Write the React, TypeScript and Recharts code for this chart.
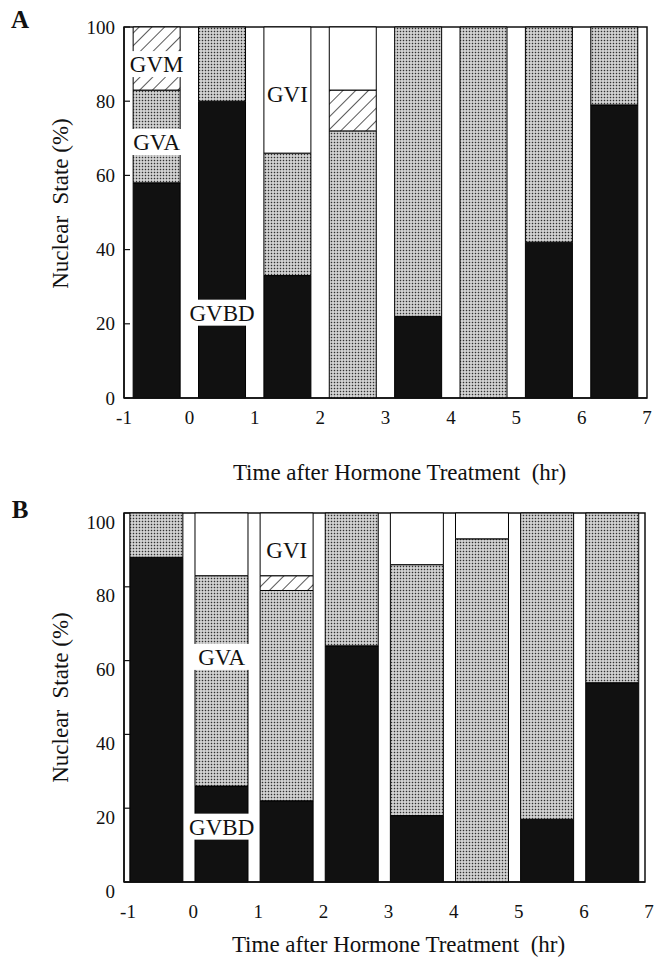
import React from 'react';
import { BarChart, Bar, XAxis, YAxis, ReferenceArea, ReferenceDot, Label } from 'recharts';

const SERIF = '"Liberation Serif", "Times New Roman", Times, serif';

// interval start hours (each bar spans start..start+1)
const hours = ['-1', '0', '1', '2', '3', '4', '5', '6'];
const xTicks = [-1, 0, 1, 2, 3, 4, 5, 6, 7];
const yTicks = [0, 20, 40, 60, 80, 100];

// Panel A (%)
const gvbdA = [58, 80, 33, 0, 22, 0, 42, 79];
const gvaA = [25, 20, 33, 72, 78, 100, 58, 21];
const gvmA = [17, 0, 0, 11, 0, 0, 0, 0];
const gviA = [0, 0, 34, 17, 0, 0, 0, 0];

// Panel B (%)
const gvbdB = [88, 26, 22, 64, 18, 0, 17, 54];
const gvaB = [12, 57, 57, 36, 68, 93, 83, 46];
const gvmB = [0, 0, 4, 0, 0, 0, 0, 0];
const gviB = [0, 17, 17, 0, 14, 7, 0, 0];

const labelsA = [
  { text: 'GVM', hour: '-1', value: 90, knockout: true },
  { text: 'GVA', hour: '-1', value: 69, knockout: true },
  { text: 'GVBD', hour: '0', value: 23, knockout: true },
  { text: 'GVI', hour: '1', value: 82, knockout: false },
];
const labelsB = [
  { text: 'GVI', hour: '1', value: 90, knockout: false },
  { text: 'GVA', hour: '0', value: 61, knockout: true },
  { text: 'GVBD', hour: '0', value: 15, knockout: true },
];

const buildRows = (gvbd: number[], gva: number[], gvm: number[], gvi: number[]) =>
  hours.map((h, i) => ({ hour: h, mid: Number(h) + 0.5, GVBD: gvbd[i], GVA: gva[i], GVM: gvm[i], GVI: gvi[i] }));

const rowsA = buildRows(gvbdA, gvaA, gvmA, gviA);
const rowsB = buildRows(gvbdB, gvaB, gvmB, gviB);

const CHAR_W: Record<string, number> = { G: 0.722, V: 0.722, M: 0.889, A: 0.722, B: 0.667, D: 0.722, I: 0.333 };
const textWidth = (s: string, fs: number) => s.split('').reduce((a, c) => a + (CHAR_W[c] ?? 0.6), 0) * fs;

const W = 657;

const BoxLabel = (props: any) => {
  const { cx, cy, text, knockout, barW } = props;
  const fs = 23;
  const tw = textWidth(text, fs);
  const w = knockout ? Math.max(tw + 4, barW + 3) : tw + 2;
  return (
    <g>
      <rect x={cx - w / 2} y={cy - 13} width={w} height={26} fill="#fff" />
      <text x={cx} y={cy + 8} textAnchor="middle" fontSize={fs} fontFamily={SERIF} fill="#111">{text}</text>
    </g>
  );
};

const YTick = (props: any) => {
  const { x, y, payload, extraDy } = props;
  return (
    <text x={x} y={y} dy={6.5 + (extraDy || 0)} textAnchor="end" fontSize={19} fontFamily={SERIF} fill="#111">
      {payload.value}
    </text>
  );
};

const XTick = (props: any) => {
  const { x, y, payload, offY, offX } = props;
  return (
    <text x={x + (offX || 0)} y={y + offY} textAnchor="middle" fontSize={19} fontFamily={SERIF} fill="#111">
      {payload.value}
    </text>
  );
};

type PanelProps = {
  id: string;
  letter: string;
  rows: any[];
  labels: { text: string; hour: string; value: number; knockout: boolean }[];
  height: number;
  top: number;
  right: number;
  xAxisH: number;
  gap: number;
  xTickOff: number;
  xTickDx: number;
  yTickDy: number;
  xTitleOff: number;
  yTitleOff: number;
};

const Panel = (p: PanelProps) => {
  const plotW = W - 124 - p.right;
  const barW = (plotW / hours.length) * (1 - 2 * p.gap);
  const stip = `stip${p.id}`;
  const hatch = `hatch${p.id}`;
  return (
    <BarChart
      width={W}
      height={p.height}
      data={p.rows}
      margin={{ top: p.top, right: p.right, left: 0, bottom: 0 }}
      barCategoryGap={`${p.gap * 100}%`}
    >
      <defs>
        <pattern id={stip} patternUnits="userSpaceOnUse" width={3} height={3}>
          <rect width={3} height={3} fill="#dcdcdc" />
          <rect x={0.75} y={0.75} width={1.5} height={1.5} fill="#303030" />
        </pattern>
        <pattern id={hatch} patternUnits="userSpaceOnUse" width={9} height={9} patternTransform="rotate(45)">
          <rect width={9} height={9} fill="#fff" />
          <line x1={0} y1={0} x2={0} y2={9} stroke="#111" strokeWidth={1.4} />
        </pattern>
      </defs>
      <XAxis
        xAxisId="num"
        dataKey="mid"
        type="number"
        domain={[-1, 7]}
        ticks={xTicks}
        interval={0}
        allowDataOverflow
        height={p.xAxisH}
        tickLine={false}
        tickSize={0}
        tickMargin={0}
        axisLine={{ stroke: '#111', strokeWidth: 1.5 }}
        tick={<XTick offY={p.xTickOff} offX={p.xTickDx} />}
      >
        <Label
          content={(lp: any) => {
            const vb = lp.viewBox || {};
            return (
              <text
                x={vb.x + vb.width / 2 + 14}
                y={vb.y + p.xTitleOff}
                textAnchor="middle"
                fontSize={23}
                fontFamily={SERIF}
                fill="#111"
                style={{ whiteSpace: 'pre' }}
              >
                {'Time after Hormone Treatment  (hr)'}
              </text>
            );
          }}
        />
      </XAxis>
      <XAxis xAxisId="cat" dataKey="hour" type="category" hide height={0} />
      <YAxis
        yAxisId="y"
        type="number"
        domain={[0, 100]}
        ticks={yTicks}
        interval={0}
        width={124}
        tickSize={-6}
        tickMargin={15}
        axisLine={{ stroke: '#111', strokeWidth: 1.5 }}
        tickLine={{ stroke: '#111', strokeWidth: 1.2 }}
        tick={<YTick extraDy={p.yTickDy} />}
      >
        <Label
          content={(lp: any) => {
            const vb = lp.viewBox || {};
            const cx = 60;
            const cy = vb.y + vb.height / 2 + p.yTitleOff;
            return (
              <g>
                <text x={20} y={28} textAnchor="middle" fontSize={25} fontWeight="bold" fontFamily={SERIF} fill="#111">
                  {p.letter}
                </text>
                <text
                  x={cx}
                  y={cy}
                  transform={`rotate(-90, ${cx}, ${cy})`}
                  textAnchor="middle"
                  dominantBaseline="central"
                  fontSize={23}
                  fontFamily={SERIF}
                  fill="#111"
                  style={{ whiteSpace: 'pre' }}
                >
                  {'Nuclear  State (%)'}
                </text>
              </g>
            );
          }}
        />
      </YAxis>
      <Bar xAxisId="cat" yAxisId="y" dataKey="GVBD" stackId="s" fill="#111" stroke="#000" strokeWidth={1} isAnimationActive={false} />
      <Bar xAxisId="cat" yAxisId="y" dataKey="GVA" stackId="s" fill={`url(#${stip})`} stroke="#000" strokeWidth={1} isAnimationActive={false} />
      <Bar xAxisId="cat" yAxisId="y" dataKey="GVM" stackId="s" fill={`url(#${hatch})`} stroke="#000" strokeWidth={1} isAnimationActive={false} />
      <Bar xAxisId="cat" yAxisId="y" dataKey="GVI" stackId="s" fill="#fff" stroke="#000" strokeWidth={1} isAnimationActive={false} />
      <ReferenceArea xAxisId="num" yAxisId="y" x1={-1} x2={7} y1={0} y2={100} fill="none" fillOpacity={0} stroke="#111" strokeWidth={1.5} />
      {p.labels.map((l) => (
        <ReferenceDot
          key={`${l.text}-${l.hour}`}
          xAxisId="cat"
          yAxisId="y"
          x={l.hour}
          y={l.value}
          r={1}
          shape={(sp: any) => <BoxLabel cx={sp.cx} cy={sp.cy} text={l.text} knockout={l.knockout} barW={barW} />}
        />
      ))}
    </BarChart>
  );
};

export default function App() {
  return (
    <div style={{ position: 'absolute', left: 0, top: 0, width: W, height: 963, background: '#fff' }}>
      <Panel
        id="A"
        letter="A"
        rows={rowsA}
        labels={labelsA}
        height={490}
        top={27}
        right={10}
        xAxisH={92}
        gap={0.14}
        xTickOff={26}
        xTickDx={0}
        yTickDy={0}
        xTitleOff={82}
        yTitleOff={-9}
      />
      <Panel
        id="B"
        letter="B"
        rows={rowsB}
        labels={labelsB}
        height={473}
        top={23}
        right={12}
        xAxisH={81}
        gap={0.09}
        xTickOff={36}
        xTickDx={4}
        yTickDy={9}
        xTitleOff={70}
        yTitleOff={0}
      />
    </div>
  );
}
